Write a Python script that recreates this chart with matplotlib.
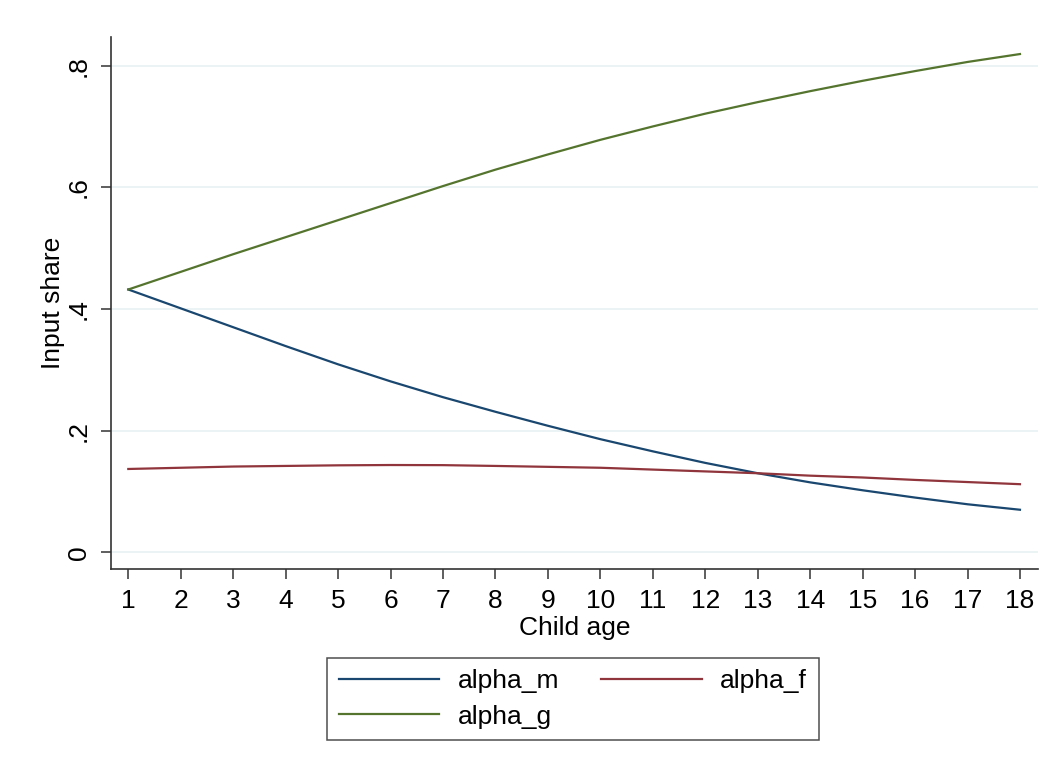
import matplotlib.pyplot as plt
import numpy as np

# Child age and input shares
ages = list(range(1, 19))
alpha_m = [0.432, 0.401, 0.370, 0.339, 0.309, 0.281, 0.255, 0.231, 0.208,
           0.186, 0.166, 0.147, 0.130, 0.115, 0.102, 0.090, 0.079, 0.070]
alpha_f = [0.137, 0.139, 0.141, 0.142, 0.143, 0.1435, 0.1433, 0.142, 0.1405,
           0.139, 0.136, 0.133, 0.130, 0.126, 0.123, 0.119, 0.1155, 0.112]
alpha_g = [0.432, 0.461, 0.490, 0.518, 0.546, 0.574, 0.602, 0.629, 0.654,
           0.678, 0.700, 0.721, 0.740, 0.758, 0.775, 0.791, 0.806, 0.819]
yticks = [0, 0.2, 0.4, 0.6, 0.8]
ytick_labels = ['0', '.2', '.4', '.6', '.8']

plt.rcParams['font.family'] = ['Liberation Sans', 'DejaVu Sans']

fig = plt.figure(figsize=(10.52, 7.71), dpi=100)
ax = fig.add_axes([0.1055, 0.262, 0.881, 0.690])

l_m, = ax.plot(ages, alpha_m, color='#1a476f', lw=1.6, label='alpha_m')
l_f, = ax.plot(ages, alpha_f, color='#90353b', lw=1.6, label='alpha_f')
l_g, = ax.plot(ages, alpha_g, color='#55752f', lw=1.6, label='alpha_g')

ax.set_xlim(0.67, 18.34)
ax.set_ylim(-0.0274, 0.847)
ax.set_xticks(ages)
ax.set_yticks(yticks)
ax.set_yticklabels(ytick_labels, rotation=90, va='center')
ax.grid(axis='y', color='#eaf2f3', lw=1.3)
ax.set_axisbelow(True)

for s in ['top', 'right']:
    ax.spines[s].set_visible(False)
for s in ['left', 'bottom']:
    ax.spines[s].set_color('#333333')
    ax.spines[s].set_linewidth(1.2)

ax.tick_params(axis='both', labelsize=19, length=7.5, width=1.1,
               color='#333333', pad=7)
ax.set_xlabel('Child age', fontsize=19, labelpad=2)
ax.set_ylabel('Input share', fontsize=19, labelpad=1)

leg = fig.legend([l_m, l_g, l_f], ['alpha_m', 'alpha_g', 'alpha_f'],
                 ncol=2, loc='center', bbox_to_anchor=(573 / 1052, 1 - 699 / 771),
                 fontsize=19, frameon=True, fancybox=False, edgecolor='#222222',
                 handlelength=3.8, handletextpad=0.7, columnspacing=1.6,
                 labelspacing=0.42, borderpad=0.45)
leg.get_frame().set_linewidth(1.1)

plt.savefig('out.png', dpi=100)
